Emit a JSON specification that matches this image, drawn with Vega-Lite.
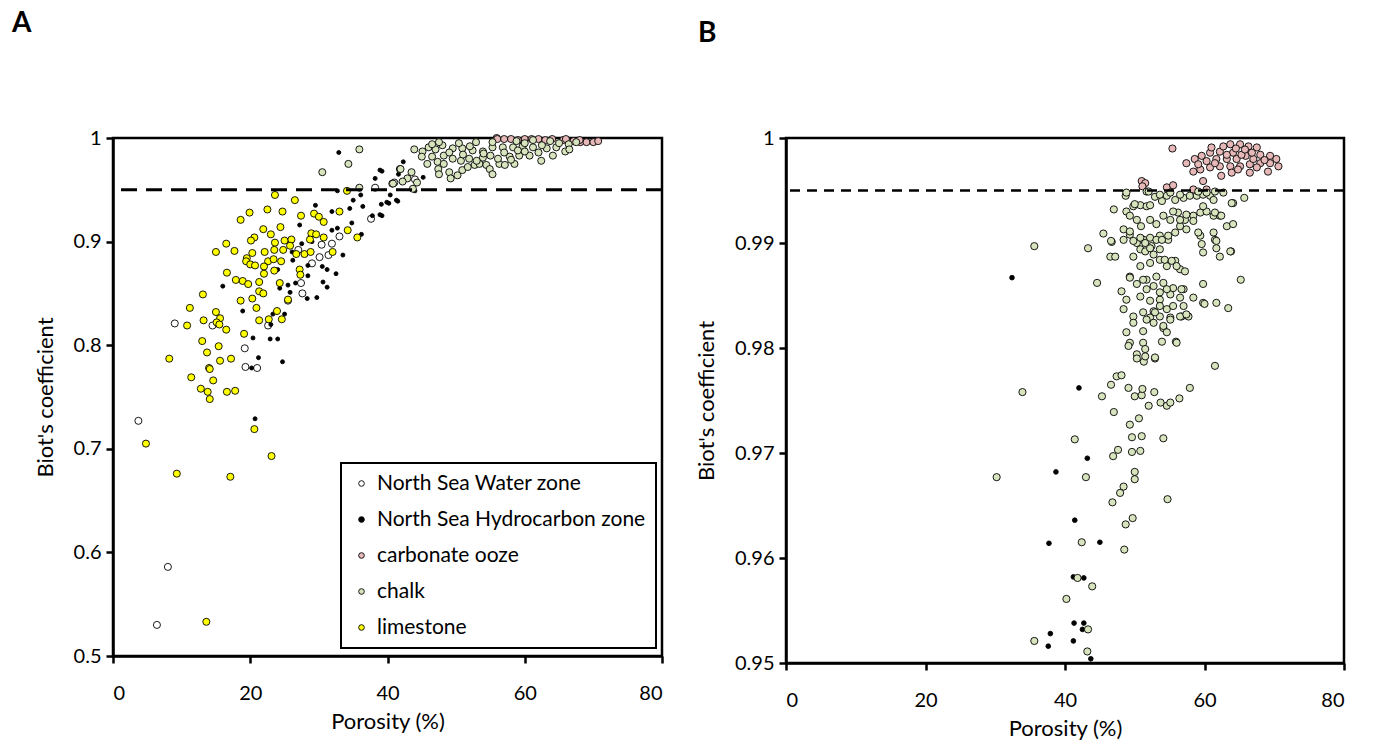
{
"$schema":"https://vega.github.io/schema/vega-lite/v6.json",
"padding":{"left":10,"top":8,"right":5,"bottom":5},
"spacing":29,
"config":{"font":"Lato","view":{"stroke":"black","strokeWidth":2.5},
"legend":{"strokeWidth":2},
"axis":{"grid":false,"domainColor":"black","domainWidth":2.5,"tickColor":"black","tickWidth":2.5,"tickSize":7,"labelFont":"Lato","labelFontSize":20,"labelColor":"black","titleFont":"Lato","titleFontSize":22,"titleFontWeight":"normal","titleColor":"black"},
"axisX":{"labelPadding":20,"titlePadding":8},
"axisY":{"labelPadding":5,"titlePadding":16},
"point":{"filled":true,"stroke":"black","strokeWidth":0.9,"opacity":1}},
"datasets":{
"a":[
{"por":3.7,"biot":0.727,"type":"North Sea Water zone"},{"por":8.0,"biot":0.586,"type":"North Sea Water zone"},{"por":6.4,"biot":0.530,"type":"North Sea Water zone"},{"por":19.3,"biot":0.779,"type":"North Sea Water zone"},{"por":21.0,"biot":0.778,"type":"North Sea Water zone"},{"por":9.0,"biot":0.821,"type":"North Sea Water zone"},{"por":14.5,"biot":0.819,"type":"North Sea Water zone"},{"por":19.2,"biot":0.797,"type":"North Sea Water zone"},{"por":22.6,"biot":0.819,"type":"North Sea Water zone"},{"por":25.5,"biot":0.843,"type":"North Sea Water zone"},{"por":27.4,"biot":0.860,"type":"North Sea Water zone"},{"por":27.6,"biot":0.850,"type":"North Sea Water zone"},{"por":30.1,"biot":0.885,"type":"North Sea Water zone"},{"por":30.4,"biot":0.897,"type":"North Sea Water zone"},{"por":31.9,"biot":0.898,"type":"North Sea Water zone"},{"por":31.4,"biot":0.887,"type":"North Sea Water zone"},{"por":27.0,"biot":0.892,"type":"North Sea Water zone"},{"por":37.6,"biot":0.922,"type":"North Sea Water zone"},{"por":38.2,"biot":0.952,"type":"North Sea Water zone"},{"por":29.0,"biot":0.879,"type":"North Sea Water zone"},{"por":33.0,"biot":0.905,"type":"North Sea Water zone"},{"por":44.0,"biot":0.960,"type":"North Sea Water zone"},{"por":41.0,"biot":0.957,"type":"North Sea Water zone"},
{"por":20.2,"biot":0.778,"type":"North Sea Hydrocarbon zone"},{"por":21.2,"biot":0.788,"type":"North Sea Hydrocarbon zone"},{"por":24.7,"biot":0.784,"type":"North Sea Hydrocarbon zone"},{"por":20.7,"biot":0.729,"type":"North Sea Hydrocarbon zone"},{"por":32.9,"biot":0.986,"type":"North Sea Hydrocarbon zone"},{"por":29.5,"biot":0.935,"type":"North Sea Hydrocarbon zone"},{"por":27.2,"biot":0.916,"type":"North Sea Hydrocarbon zone"},{"por":31.9,"biot":0.911,"type":"North Sea Hydrocarbon zone"},{"por":32.7,"biot":0.913,"type":"North Sea Hydrocarbon zone"},{"por":34.5,"biot":0.932,"type":"North Sea Hydrocarbon zone"},{"por":36.1,"biot":0.945,"type":"North Sea Hydrocarbon zone"},{"por":38.2,"biot":0.961,"type":"North Sea Hydrocarbon zone"},{"por":39.2,"biot":0.968,"type":"North Sea Hydrocarbon zone"},{"por":32.7,"biot":0.949,"type":"North Sea Hydrocarbon zone"},{"por":36.4,"biot":0.934,"type":"North Sea Hydrocarbon zone"},{"por":37.8,"biot":0.925,"type":"North Sea Hydrocarbon zone"},{"por":39.2,"biot":0.925,"type":"North Sea Hydrocarbon zone"},{"por":39.1,"biot":0.936,"type":"North Sea Hydrocarbon zone"},{"por":40.2,"biot":0.937,"type":"North Sea Hydrocarbon zone"},{"por":41.5,"biot":0.939,"type":"North Sea Hydrocarbon zone"},{"por":36.2,"biot":0.907,"type":"North Sea Hydrocarbon zone"},{"por":33.5,"biot":0.887,"type":"North Sea Hydrocarbon zone"},{"por":32.5,"biot":0.869,"type":"North Sea Hydrocarbon zone"},{"por":31.2,"biot":0.856,"type":"North Sea Hydrocarbon zone"},{"por":30.6,"biot":0.861,"type":"North Sea Hydrocarbon zone"},{"por":29.7,"biot":0.846,"type":"North Sea Hydrocarbon zone"},{"por":28.3,"biot":0.845,"type":"North Sea Hydrocarbon zone"},{"por":28.4,"biot":0.867,"type":"North Sea Hydrocarbon zone"},{"por":28.4,"biot":0.877,"type":"North Sea Hydrocarbon zone"},{"por":30.5,"biot":0.876,"type":"North Sea Hydrocarbon zone"},{"por":31.2,"biot":0.873,"type":"North Sea Hydrocarbon zone"},{"por":26.6,"biot":0.860,"type":"North Sea Hydrocarbon zone"},{"por":25.5,"biot":0.858,"type":"North Sea Hydrocarbon zone"},{"por":25.8,"biot":0.851,"type":"North Sea Hydrocarbon zone"},{"por":27.5,"biot":0.898,"type":"North Sea Hydrocarbon zone"},{"por":26.1,"biot":0.890,"type":"North Sea Hydrocarbon zone"},{"por":26.2,"biot":0.882,"type":"North Sea Hydrocarbon zone"},{"por":24.0,"biot":0.873,"type":"North Sea Hydrocarbon zone"},{"por":24.3,"biot":0.855,"type":"North Sea Hydrocarbon zone"},{"por":16.0,"biot":0.857,"type":"North Sea Hydrocarbon zone"},{"por":18.9,"biot":0.833,"type":"North Sea Hydrocarbon zone"},{"por":20.4,"biot":0.807,"type":"North Sea Hydrocarbon zone"},{"por":22.9,"biot":0.806,"type":"North Sea Hydrocarbon zone"},{"por":24.0,"biot":0.806,"type":"North Sea Hydrocarbon zone"},{"por":23.3,"biot":0.830,"type":"North Sea Hydrocarbon zone"},{"por":25.0,"biot":0.830,"type":"North Sea Hydrocarbon zone"},{"por":23.0,"biot":0.820,"type":"North Sea Hydrocarbon zone"},{"por":31.9,"biot":0.929,"type":"North Sea Hydrocarbon zone"},{"por":38.9,"biot":0.969,"type":"North Sea Hydrocarbon zone"},{"por":42.3,"biot":0.977,"type":"North Sea Hydrocarbon zone"},{"por":41.6,"biot":0.965,"type":"North Sea Hydrocarbon zone"},{"por":39.9,"biot":0.938,"type":"North Sea Hydrocarbon zone"},{"por":41.3,"biot":0.940,"type":"North Sea Hydrocarbon zone"},{"por":38.9,"biot":0.926,"type":"North Sea Hydrocarbon zone"},{"por":45.2,"biot":0.962,"type":"North Sea Hydrocarbon zone"},{"por":44.0,"biot":0.949,"type":"North Sea Hydrocarbon zone"},{"por":40.4,"biot":0.945,"type":"North Sea Hydrocarbon zone"},{"por":34.8,"biot":0.918,"type":"North Sea Hydrocarbon zone"},{"por":29.0,"biot":0.900,"type":"North Sea Hydrocarbon zone"},{"por":35.0,"biot":0.940,"type":"North Sea Hydrocarbon zone"},
{"por":55.9,"biot":1.000,"type":"carbonate ooze"},{"por":65.6,"biot":0.998,"type":"carbonate ooze"},{"por":67.1,"biot":0.997,"type":"carbonate ooze"},{"por":68.1,"biot":0.996,"type":"carbonate ooze"},{"por":69.0,"biot":0.996,"type":"carbonate ooze"},{"por":70.0,"biot":0.996,"type":"carbonate ooze"},{"por":70.7,"biot":0.997,"type":"carbonate ooze"},{"por":56,"biot":0.999,"type":"carbonate ooze"},{"por":58,"biot":0.999,"type":"carbonate ooze"},{"por":60,"biot":0.999,"type":"carbonate ooze"},{"por":62,"biot":0.999,"type":"carbonate ooze"},{"por":64,"biot":0.999,"type":"carbonate ooze"},{"por":66,"biot":0.999,"type":"carbonate ooze"},{"por":68,"biot":0.998,"type":"carbonate ooze"},{"por":63,"biot":0.998,"type":"carbonate ooze"},{"por":61,"biot":0.999,"type":"carbonate ooze"},{"por":59,"biot":0.998,"type":"carbonate ooze"},{"por":57,"biot":0.999,"type":"carbonate ooze"},
{"por":35.9,"biot":0.989,"type":"chalk"},{"por":34.3,"biot":0.975,"type":"chalk"},{"por":30.5,"biot":0.967,"type":"chalk"},{"por":35.9,"biot":0.952,"type":"chalk"},{"por":41.8,"biot":0.970,"type":"chalk"},{"por":40.7,"biot":0.956,"type":"chalk"},{"por":43.9,"biot":0.989,"type":"chalk"},{"por":45.1,"biot":0.987,"type":"chalk"},{"por":46.0,"biot":0.991,"type":"chalk"},{"por":47.0,"biot":0.989,"type":"chalk"},{"por":45.8,"biot":0.975,"type":"chalk"},{"por":47.3,"biot":0.977,"type":"chalk"},{"por":47.4,"biot":0.970,"type":"chalk"},{"por":47.5,"biot":0.965,"type":"chalk"},{"por":48.2,"biot":0.975,"type":"chalk"},{"por":49.0,"biot":0.967,"type":"chalk"},{"por":49.2,"biot":0.961,"type":"chalk"},{"por":50.2,"biot":0.964,"type":"chalk"},{"por":50.9,"biot":0.969,"type":"chalk"},{"por":51.7,"biot":0.972,"type":"chalk"},{"por":52.7,"biot":0.974,"type":"chalk"},{"por":53.4,"biot":0.975,"type":"chalk"},{"por":54.4,"biot":0.974,"type":"chalk"},{"por":54.9,"biot":0.970,"type":"chalk"},{"por":55.3,"biot":0.965,"type":"chalk"},{"por":56.3,"biot":0.975,"type":"chalk"},{"por":57.1,"biot":0.974,"type":"chalk"},{"por":58.5,"biot":0.975,"type":"chalk"},{"por":62.4,"biot":0.978,"type":"chalk"},{"por":64.1,"biot":0.983,"type":"chalk"},{"por":65.9,"biot":0.987,"type":"chalk"},{"por":66.4,"biot":0.994,"type":"chalk"},{"por":60.7,"biot":0.983,"type":"chalk"},{"por":59.2,"biot":0.983,"type":"chalk"},{"por":57.8,"biot":0.982,"type":"chalk"},{"por":56.1,"biot":0.980,"type":"chalk"},{"por":53.9,"biot":0.981,"type":"chalk"},{"por":51.9,"biot":0.980,"type":"chalk"},{"por":50.7,"biot":0.978,"type":"chalk"},{"por":49.5,"biot":0.980,"type":"chalk"},{"por":48.2,"biot":0.983,"type":"chalk"},{"por":49.5,"biot":0.990,"type":"chalk"},{"por":50.9,"biot":0.990,"type":"chalk"},{"por":52.4,"biot":0.988,"type":"chalk"},{"por":53.9,"biot":0.987,"type":"chalk"},{"por":55.3,"biot":0.991,"type":"chalk"},{"por":56.8,"biot":0.991,"type":"chalk"},{"por":58.3,"biot":0.991,"type":"chalk"},{"por":59.7,"biot":0.992,"type":"chalk"},{"por":61.2,"biot":0.991,"type":"chalk"},{"por":63.2,"biot":0.990,"type":"chalk"},{"por":64.6,"biot":0.991,"type":"chalk"},{"por":50.4,"biot":0.995,"type":"chalk"},{"por":52.9,"biot":0.996,"type":"chalk"},{"por":55.3,"biot":0.996,"type":"chalk"},{"por":58.8,"biot":0.997,"type":"chalk"},{"por":61.2,"biot":0.998,"type":"chalk"},{"por":63.7,"biot":0.997,"type":"chalk"},{"por":41.9,"biot":0.970,"type":"chalk"},{"por":43.5,"biot":0.967,"type":"chalk"},{"por":42.9,"biot":0.961,"type":"chalk"},{"por":42.2,"biot":0.958,"type":"chalk"},{"por":40.8,"biot":0.956,"type":"chalk"},{"por":44.3,"biot":0.957,"type":"chalk"},{"por":43.7,"biot":0.951,"type":"chalk"},{"por":48,"biot":0.993,"type":"chalk"},{"por":52,"biot":0.992,"type":"chalk"},{"por":54,"biot":0.985,"type":"chalk"},{"por":46.5,"biot":0.982,"type":"chalk"},{"por":57,"biot":0.986,"type":"chalk"},{"por":59,"biot":0.988,"type":"chalk"},{"por":62,"biot":0.986,"type":"chalk"},{"por":60,"biot":0.995,"type":"chalk"},{"por":47.5,"biot":0.996,"type":"chalk"},{"por":65,"biot":0.995,"type":"chalk"},{"por":45,"biot":0.982,"type":"chalk"},{"por":46.5,"biot":0.994,"type":"chalk"},{"por":49,"biot":0.986,"type":"chalk"},{"por":51,"biot":0.984,"type":"chalk"},{"por":53,"biot":0.978,"type":"chalk"},{"por":55,"biot":0.983,"type":"chalk"},{"por":58,"biot":0.979,"type":"chalk"},{"por":60,"biot":0.987,"type":"chalk"},{"por":62.5,"biot":0.993,"type":"chalk"},{"por":66.5,"biot":0.989,"type":"chalk"},{"por":67.5,"biot":0.996,"type":"chalk"},
{"por":23.6,"biot":0.945,"type":"limestone"},{"por":26.5,"biot":0.940,"type":"limestone"},{"por":19.9,"biot":0.928,"type":"limestone"},{"por":18.6,"biot":0.921,"type":"limestone"},{"por":22.5,"biot":0.931,"type":"limestone"},{"por":24.7,"biot":0.929,"type":"limestone"},{"por":27.4,"biot":0.925,"type":"limestone"},{"por":29.3,"biot":0.927,"type":"limestone"},{"por":30.0,"biot":0.924,"type":"limestone"},{"por":30.7,"biot":0.919,"type":"limestone"},{"por":33.0,"biot":0.929,"type":"limestone"},{"por":34.1,"biot":0.949,"type":"limestone"},{"por":34.2,"biot":0.911,"type":"limestone"},{"por":35.6,"biot":0.904,"type":"limestone"},{"por":21.9,"biot":0.912,"type":"limestone"},{"por":23.0,"biot":0.907,"type":"limestone"},{"por":24.4,"biot":0.914,"type":"limestone"},{"por":20.6,"biot":0.904,"type":"limestone"},{"por":20.1,"biot":0.901,"type":"limestone"},{"por":16.5,"biot":0.898,"type":"limestone"},{"por":15.0,"biot":0.890,"type":"limestone"},{"por":17.7,"biot":0.891,"type":"limestone"},{"por":23.6,"biot":0.899,"type":"limestone"},{"por":25.0,"biot":0.901,"type":"limestone"},{"por":26.0,"biot":0.902,"type":"limestone"},{"por":28.9,"biot":0.908,"type":"limestone"},{"por":29.6,"biot":0.907,"type":"limestone"},{"por":30.7,"biot":0.904,"type":"limestone"},{"por":28.7,"biot":0.902,"type":"limestone"},{"por":23.5,"biot":0.892,"type":"limestone"},{"por":24.8,"biot":0.892,"type":"limestone"},{"por":25.8,"biot":0.896,"type":"limestone"},{"por":22.1,"biot":0.890,"type":"limestone"},{"por":19.5,"biot":0.884,"type":"limestone"},{"por":20.3,"biot":0.889,"type":"limestone"},{"por":26.7,"biot":0.888,"type":"limestone"},{"por":27.9,"biot":0.888,"type":"limestone"},{"por":28.8,"biot":0.890,"type":"limestone"},{"por":32.0,"biot":0.890,"type":"limestone"},{"por":22.6,"biot":0.881,"type":"limestone"},{"por":23.4,"biot":0.883,"type":"limestone"},{"por":24.5,"biot":0.881,"type":"limestone"},{"por":19.4,"biot":0.881,"type":"limestone"},{"por":20.0,"biot":0.878,"type":"limestone"},{"por":20.7,"biot":0.877,"type":"limestone"},{"por":22.0,"biot":0.876,"type":"limestone"},{"por":22.0,"biot":0.869,"type":"limestone"},{"por":23.5,"biot":0.872,"type":"limestone"},{"por":27.2,"biot":0.873,"type":"limestone"},{"por":27.3,"biot":0.868,"type":"limestone"},{"por":16.6,"biot":0.870,"type":"limestone"},{"por":17.9,"biot":0.863,"type":"limestone"},{"por":18.9,"biot":0.862,"type":"limestone"},{"por":19.7,"biot":0.859,"type":"limestone"},{"por":21.3,"biot":0.861,"type":"limestone"},{"por":24.3,"biot":0.860,"type":"limestone"},{"por":21.3,"biot":0.852,"type":"limestone"},{"por":21.9,"biot":0.850,"type":"limestone"},{"por":20.3,"biot":0.845,"type":"limestone"},{"por":18.6,"biot":0.843,"type":"limestone"},{"por":25.5,"biot":0.844,"type":"limestone"},{"por":13.1,"biot":0.849,"type":"limestone"},{"por":11.2,"biot":0.836,"type":"limestone"},{"por":20.9,"biot":0.836,"type":"limestone"},{"por":23.9,"biot":0.833,"type":"limestone"},{"por":13.2,"biot":0.824,"type":"limestone"},{"por":15.0,"biot":0.832,"type":"limestone"},{"por":15.6,"biot":0.826,"type":"limestone"},{"por":15.1,"biot":0.822,"type":"limestone"},{"por":15.5,"biot":0.820,"type":"limestone"},{"por":16.5,"biot":0.815,"type":"limestone"},{"por":10.8,"biot":0.819,"type":"limestone"},{"por":21.3,"biot":0.824,"type":"limestone"},{"por":22.7,"biot":0.825,"type":"limestone"},{"por":24.6,"biot":0.825,"type":"limestone"},{"por":19.1,"biot":0.811,"type":"limestone"},{"por":13.0,"biot":0.804,"type":"limestone"},{"por":15.4,"biot":0.799,"type":"limestone"},{"por":13.7,"biot":0.793,"type":"limestone"},{"por":8.2,"biot":0.787,"type":"limestone"},{"por":15.6,"biot":0.785,"type":"limestone"},{"por":17.2,"biot":0.787,"type":"limestone"},{"por":14.0,"biot":0.778,"type":"limestone"},{"por":14.1,"biot":0.777,"type":"limestone"},{"por":11.4,"biot":0.769,"type":"limestone"},{"por":14.6,"biot":0.766,"type":"limestone"},{"por":12.8,"biot":0.758,"type":"limestone"},{"por":13.8,"biot":0.755,"type":"limestone"},{"por":14.1,"biot":0.748,"type":"limestone"},{"por":16.6,"biot":0.755,"type":"limestone"},{"por":17.8,"biot":0.756,"type":"limestone"},{"por":4.8,"biot":0.705,"type":"limestone"},{"por":9.3,"biot":0.676,"type":"limestone"},{"por":17.1,"biot":0.673,"type":"limestone"},{"por":20.6,"biot":0.719,"type":"limestone"},{"por":23.1,"biot":0.693,"type":"limestone"},{"por":13.6,"biot":0.533,"type":"limestone"}
],
"b":[
{"por":32.4,"biot":0.9867,"type":"North Sea Hydrocarbon zone"},{"por":42.0,"biot":0.9762,"type":"North Sea Hydrocarbon zone"},{"por":43.2,"biot":0.9695,"type":"North Sea Hydrocarbon zone"},{"por":38.7,"biot":0.9682,"type":"North Sea Hydrocarbon zone"},{"por":41.4,"biot":0.9636,"type":"North Sea Hydrocarbon zone"},{"por":37.7,"biot":0.9614,"type":"North Sea Hydrocarbon zone"},{"por":45.0,"biot":0.9615,"type":"North Sea Hydrocarbon zone"},{"por":41.2,"biot":0.9582,"type":"North Sea Hydrocarbon zone"},{"por":42.7,"biot":0.9581,"type":"North Sea Hydrocarbon zone"},{"por":41.3,"biot":0.9538,"type":"North Sea Hydrocarbon zone"},{"por":42.7,"biot":0.9538,"type":"North Sea Hydrocarbon zone"},{"por":42.5,"biot":0.9532,"type":"North Sea Hydrocarbon zone"},{"por":37.9,"biot":0.9528,"type":"North Sea Hydrocarbon zone"},{"por":37.6,"biot":0.9516,"type":"North Sea Hydrocarbon zone"},{"por":41.2,"biot":0.9521,"type":"North Sea Hydrocarbon zone"},{"por":43.7,"biot":0.9504,"type":"North Sea Hydrocarbon zone"},
{"por":55.4,"biot":0.999,"type":"carbonate ooze"},{"por":51.0,"biot":0.9959,"type":"carbonate ooze"},{"por":51.5,"biot":0.9957,"type":"carbonate ooze"},{"por":51.1,"biot":0.9954,"type":"carbonate ooze"},{"por":54.6,"biot":0.9953,"type":"carbonate ooze"},{"por":55.5,"biot":0.9955,"type":"carbonate ooze"},{"por":58.4,"biot":0.9951,"type":"carbonate ooze"},{"por":59.8,"biot":0.9959,"type":"carbonate ooze"},{"por":60.3,"biot":0.9951,"type":"carbonate ooze"},{"por":57.4,"biot":0.9976,"type":"carbonate ooze"},{"por":58.6,"biot":0.998,"type":"carbonate ooze"},{"por":59.6,"biot":0.9983,"type":"carbonate ooze"},{"por":60.8,"biot":0.9986,"type":"carbonate ooze"},{"por":62.2,"biot":0.9987,"type":"carbonate ooze"},{"por":63.7,"biot":0.9994,"type":"carbonate ooze"},{"por":65.1,"biot":0.9994,"type":"carbonate ooze"},{"por":66.3,"biot":0.9992,"type":"carbonate ooze"},{"por":67.5,"biot":0.9991,"type":"carbonate ooze"},{"por":64.1,"biot":0.9986,"type":"carbonate ooze"},{"por":65.9,"biot":0.9983,"type":"carbonate ooze"},{"por":68.0,"biot":0.9984,"type":"carbonate ooze"},{"por":69.4,"biot":0.9983,"type":"carbonate ooze"},{"por":70.3,"biot":0.998,"type":"carbonate ooze"},{"por":70.6,"biot":0.9973,"type":"carbonate ooze"},{"por":69.4,"biot":0.9976,"type":"carbonate ooze"},{"por":68.0,"biot":0.9976,"type":"carbonate ooze"},{"por":66.5,"biot":0.9975,"type":"carbonate ooze"},{"por":65.1,"biot":0.9973,"type":"carbonate ooze"},{"por":63.7,"biot":0.9973,"type":"carbonate ooze"},{"por":62.2,"biot":0.9973,"type":"carbonate ooze"},{"por":60.8,"biot":0.9972,"type":"carbonate ooze"},{"por":59.4,"biot":0.997,"type":"carbonate ooze"},{"por":58.4,"biot":0.9968,"type":"carbonate ooze"},{"por":60.3,"biot":0.9978,"type":"carbonate ooze"},{"por":61.7,"biot":0.998,"type":"carbonate ooze"},{"por":63.2,"biot":0.998,"type":"carbonate ooze"},{"por":64.6,"biot":0.998,"type":"carbonate ooze"},{"por":67.0,"biot":0.998,"type":"carbonate ooze"},{"por":62.4,"biot":0.9964,"type":"carbonate ooze"},{"por":63.9,"biot":0.9967,"type":"carbonate ooze"},{"por":66.5,"biot":0.9967,"type":"carbonate ooze"},{"por":69.1,"biot":0.9968,"type":"carbonate ooze"},{"por":62.7,"biot":0.9992,"type":"carbonate ooze"},{"por":61.0,"biot":0.9991,"type":"carbonate ooze"},{"por":67.5,"biot":0.9972,"type":"carbonate ooze"},{"por":65.3,"biot":0.9984,"type":"carbonate ooze"},{"por":59.1,"biot":0.9975,"type":"carbonate ooze"},{"por":63.2,"biot":0.9984,"type":"carbonate ooze"},{"por":65.8,"biot":0.9989,"type":"carbonate ooze"},{"por":64.5,"biot":0.9990,"type":"carbonate ooze"},{"por":66.8,"biot":0.9986,"type":"carbonate ooze"},{"por":61.5,"biot":0.9976,"type":"carbonate ooze"},{"por":64.8,"biot":0.9970,"type":"carbonate ooze"},{"por":68.6,"biot":0.9979,"type":"carbonate ooze"},
{"por":35.6,"biot":0.9897,"type":"chalk"},{"por":43.3,"biot":0.9895,"type":"chalk"},{"por":44.6,"biot":0.9862,"type":"chalk"},{"por":45.5,"biot":0.9909,"type":"chalk"},{"por":47.0,"biot":0.9932,"type":"chalk"},{"por":46.5,"biot":0.9887,"type":"chalk"},{"por":46.7,"biot":0.9901,"type":"chalk"},{"por":48.7,"biot":0.9945,"type":"chalk"},{"por":48.8,"biot":0.993,"type":"chalk"},{"por":49.8,"biot":0.9935,"type":"chalk"},{"por":50.8,"biot":0.9936,"type":"chalk"},{"por":51.7,"biot":0.9935,"type":"chalk"},{"por":51.7,"biot":0.9949,"type":"chalk"},{"por":52.9,"biot":0.9944,"type":"chalk"},{"por":53.9,"biot":0.994,"type":"chalk"},{"por":54.6,"biot":0.9945,"type":"chalk"},{"por":55.8,"biot":0.9941,"type":"chalk"},{"por":57.0,"biot":0.9943,"type":"chalk"},{"por":57.9,"biot":0.9945,"type":"chalk"},{"por":58.9,"biot":0.9945,"type":"chalk"},{"por":59.8,"biot":0.9946,"type":"chalk"},{"por":60.8,"biot":0.9945,"type":"chalk"},{"por":61.5,"biot":0.9949,"type":"chalk"},{"por":64.1,"biot":0.9938,"type":"chalk"},{"por":65.7,"biot":0.9943,"type":"chalk"},{"por":63.2,"biot":0.9916,"type":"chalk"},{"por":63.8,"biot":0.9892,"type":"chalk"},{"por":65.2,"biot":0.9865,"type":"chalk"},{"por":61.7,"biot":0.9843,"type":"chalk"},{"por":63.4,"biot":0.9838,"type":"chalk"},{"por":59.8,"biot":0.9843,"type":"chalk"},{"por":58.4,"biot":0.9848,"type":"chalk"},{"por":59.8,"biot":0.9861,"type":"chalk"},{"por":50.3,"biot":0.9922,"type":"chalk"},{"por":50.9,"biot":0.9916,"type":"chalk"},{"por":52.2,"biot":0.9922,"type":"chalk"},{"por":53.1,"biot":0.9918,"type":"chalk"},{"por":54.1,"biot":0.9926,"type":"chalk"},{"por":55.1,"biot":0.9922,"type":"chalk"},{"por":56.2,"biot":0.9929,"type":"chalk"},{"por":57.2,"biot":0.9922,"type":"chalk"},{"por":58.4,"biot":0.9926,"type":"chalk"},{"por":59.4,"biot":0.9929,"type":"chalk"},{"por":60.3,"biot":0.993,"type":"chalk"},{"por":61.3,"biot":0.9926,"type":"chalk"},{"por":62.2,"biot":0.9926,"type":"chalk"},{"por":49.3,"biot":0.9908,"type":"chalk"},{"por":50.3,"biot":0.99,"type":"chalk"},{"por":51.3,"biot":0.9903,"type":"chalk"},{"por":52.4,"biot":0.9897,"type":"chalk"},{"por":53.6,"biot":0.9907,"type":"chalk"},{"por":54.8,"biot":0.9903,"type":"chalk"},{"por":55.8,"biot":0.991,"type":"chalk"},{"por":56.5,"biot":0.9916,"type":"chalk"},{"por":57.4,"biot":0.9913,"type":"chalk"},{"por":59.4,"biot":0.9907,"type":"chalk"},{"por":59.6,"biot":0.9899,"type":"chalk"},{"por":59.8,"biot":0.9891,"type":"chalk"},{"por":61.5,"biot":0.9903,"type":"chalk"},{"por":61.7,"biot":0.9895,"type":"chalk"},{"por":62.2,"biot":0.9887,"type":"chalk"},{"por":49.8,"biot":0.9887,"type":"chalk"},{"por":50.8,"biot":0.9878,"type":"chalk"},{"por":52.2,"biot":0.9881,"type":"chalk"},{"por":53.6,"biot":0.9884,"type":"chalk"},{"por":54.6,"biot":0.9878,"type":"chalk"},{"por":55.8,"biot":0.9883,"type":"chalk"},{"por":56.5,"biot":0.9875,"type":"chalk"},{"por":57.2,"biot":0.9873,"type":"chalk"},{"por":49.3,"biot":0.9868,"type":"chalk"},{"por":50.3,"biot":0.9861,"type":"chalk"},{"por":51.7,"biot":0.9865,"type":"chalk"},{"por":53.1,"biot":0.9868,"type":"chalk"},{"por":54.1,"biot":0.9862,"type":"chalk"},{"por":55.5,"biot":0.9857,"type":"chalk"},{"por":57.0,"biot":0.9856,"type":"chalk"},{"por":48.1,"biot":0.9854,"type":"chalk"},{"por":48.8,"biot":0.9846,"type":"chalk"},{"por":50.8,"biot":0.9849,"type":"chalk"},{"por":52.2,"biot":0.9845,"type":"chalk"},{"por":53.6,"biot":0.9846,"type":"chalk"},{"por":55.1,"biot":0.9851,"type":"chalk"},{"por":56.5,"biot":0.9848,"type":"chalk"},{"por":48.4,"biot":0.9837,"type":"chalk"},{"por":49.8,"biot":0.983,"type":"chalk"},{"por":51.2,"biot":0.9834,"type":"chalk"},{"por":52.7,"biot":0.9835,"type":"chalk"},{"por":53.6,"biot":0.983,"type":"chalk"},{"por":55.1,"biot":0.9829,"type":"chalk"},{"por":56.7,"biot":0.983,"type":"chalk"},{"por":49.8,"biot":0.9824,"type":"chalk"},{"por":52.2,"biot":0.9829,"type":"chalk"},{"por":52.9,"biot":0.9834,"type":"chalk"},{"por":53.6,"biot":0.984,"type":"chalk"},{"por":54.6,"biot":0.9837,"type":"chalk"},{"por":55.5,"biot":0.984,"type":"chalk"},{"por":57.0,"biot":0.984,"type":"chalk"},{"por":55.1,"biot":0.9827,"type":"chalk"},{"por":57.7,"biot":0.983,"type":"chalk"},{"por":60.0,"biot":0.9842,"type":"chalk"},{"por":48.8,"biot":0.9815,"type":"chalk"},{"por":49.3,"biot":0.9805,"type":"chalk"},{"por":49.1,"biot":0.9802,"type":"chalk"},{"por":51.2,"biot":0.9816,"type":"chalk"},{"por":51.2,"biot":0.9805,"type":"chalk"},{"por":51.5,"biot":0.9799,"type":"chalk"},{"por":50.3,"biot":0.9794,"type":"chalk"},{"por":50.3,"biot":0.979,"type":"chalk"},{"por":51.3,"biot":0.9787,"type":"chalk"},{"por":52.9,"biot":0.979,"type":"chalk"},{"por":53.9,"biot":0.9806,"type":"chalk"},{"por":54.1,"biot":0.9819,"type":"chalk"},{"por":54.6,"biot":0.9815,"type":"chalk"},{"por":55.9,"biot":0.9806,"type":"chalk"},{"por":61.5,"biot":0.9783,"type":"chalk"},{"por":47.4,"biot":0.9773,"type":"chalk"},{"por":48.1,"biot":0.9774,"type":"chalk"},{"por":46.6,"biot":0.9765,"type":"chalk"},{"por":49.1,"biot":0.9762,"type":"chalk"},{"por":50.0,"biot":0.9754,"type":"chalk"},{"por":51.0,"biot":0.9755,"type":"chalk"},{"por":51.1,"biot":0.9761,"type":"chalk"},{"por":52.8,"biot":0.9758,"type":"chalk"},{"por":53.7,"biot":0.9748,"type":"chalk"},{"por":54.6,"biot":0.9745,"type":"chalk"},{"por":55.1,"biot":0.9748,"type":"chalk"},{"por":56.4,"biot":0.9752,"type":"chalk"},{"por":57.9,"biot":0.9762,"type":"chalk"},{"por":52.0,"biot":0.9745,"type":"chalk"},{"por":45.3,"biot":0.9754,"type":"chalk"},{"por":47.0,"biot":0.9739,"type":"chalk"},{"por":49.3,"biot":0.9727,"type":"chalk"},{"por":50.6,"biot":0.9733,"type":"chalk"},{"por":49.6,"biot":0.9715,"type":"chalk"},{"por":51.0,"biot":0.9716,"type":"chalk"},{"por":54.1,"biot":0.9714,"type":"chalk"},{"por":47.6,"biot":0.9703,"type":"chalk"},{"por":46.9,"biot":0.9697,"type":"chalk"},{"por":49.6,"biot":0.9701,"type":"chalk"},{"por":50.8,"biot":0.9702,"type":"chalk"},{"por":50.0,"biot":0.9682,"type":"chalk"},{"por":50.0,"biot":0.9675,"type":"chalk"},{"por":48.4,"biot":0.9668,"type":"chalk"},{"por":47.9,"biot":0.9662,"type":"chalk"},{"por":41.4,"biot":0.9713,"type":"chalk"},{"por":43.0,"biot":0.9677,"type":"chalk"},{"por":33.9,"biot":0.9758,"type":"chalk"},{"por":30.2,"biot":0.9677,"type":"chalk"},{"por":46.8,"biot":0.9653,"type":"chalk"},{"por":54.7,"biot":0.9656,"type":"chalk"},{"por":48.7,"biot":0.9632,"type":"chalk"},{"por":49.7,"biot":0.9638,"type":"chalk"},{"por":42.4,"biot":0.9615,"type":"chalk"},{"por":48.5,"biot":0.9608,"type":"chalk"},{"por":41.8,"biot":0.9581,"type":"chalk"},{"por":43.9,"biot":0.9573,"type":"chalk"},{"por":40.2,"biot":0.9561,"type":"chalk"},{"por":43.3,"biot":0.9532,"type":"chalk"},{"por":35.6,"biot":0.9521,"type":"chalk"},{"por":43.2,"biot":0.9511,"type":"chalk"},{"por":46.6,"biot":0.9902,"type":"chalk"},{"por":47.2,"biot":0.9887,"type":"chalk"},{"por":48.8,"biot":0.9948,"type":"chalk"},{"por":49.3,"biot":0.9926,"type":"chalk"},{"por":50.0,"biot":0.9937,"type":"chalk"},{"por":52.2,"biot":0.9936,"type":"chalk"},{"por":48.4,"biot":0.9913,"type":"chalk"},{"por":49.3,"biot":0.9911,"type":"chalk"},{"por":48.4,"biot":0.9903,"type":"chalk"},{"por":49.8,"biot":0.9902,"type":"chalk"},{"por":50.8,"biot":0.9905,"type":"chalk"},{"por":51.5,"biot":0.99,"type":"chalk"},{"por":52.2,"biot":0.9905,"type":"chalk"},{"por":53.1,"biot":0.9903,"type":"chalk"},{"por":53.9,"biot":0.9903,"type":"chalk"},{"por":54.8,"biot":0.9907,"type":"chalk"},{"por":50.8,"biot":0.9894,"type":"chalk"},{"por":51.5,"biot":0.9892,"type":"chalk"},{"por":52.2,"biot":0.9895,"type":"chalk"},{"por":52.7,"biot":0.9889,"type":"chalk"},{"por":53.6,"biot":0.9894,"type":"chalk"},{"por":54.3,"biot":0.9884,"type":"chalk"},{"por":55.3,"biot":0.9883,"type":"chalk"},{"por":56.0,"biot":0.9878,"type":"chalk"},{"por":49.3,"biot":0.9867,"type":"chalk"},{"por":51.2,"biot":0.9865,"type":"chalk"},{"por":51.7,"biot":0.9856,"type":"chalk"},{"por":52.7,"biot":0.9859,"type":"chalk"},{"por":53.6,"biot":0.9853,"type":"chalk"},{"por":54.6,"biot":0.9856,"type":"chalk"},{"por":56.7,"biot":0.9856,"type":"chalk"},{"por":51.7,"biot":0.9827,"type":"chalk"},{"por":52.7,"biot":0.9824,"type":"chalk"},{"por":54.1,"biot":0.9821,"type":"chalk"},{"por":56.5,"biot":0.983,"type":"chalk"},{"por":57.4,"biot":0.9832,"type":"chalk"},{"por":56.0,"biot":0.9805,"type":"chalk"},{"por":51.5,"biot":0.9792,"type":"chalk"},{"por":52.9,"biot":0.9791,"type":"chalk"},{"por":59.1,"biot":0.991,"type":"chalk"},{"por":61.3,"biot":0.991,"type":"chalk"},{"por":61.7,"biot":0.9902,"type":"chalk"},{"por":63.7,"biot":0.9892,"type":"chalk"},{"por":64.1,"biot":0.9918,"type":"chalk"},{"por":63.9,"biot":0.9938,"type":"chalk"},{"por":62.7,"biot":0.9948,"type":"chalk"},{"por":61.3,"biot":0.9941,"type":"chalk"},{"por":61.5,"biot":0.9929,"type":"chalk"},{"por":62.4,"biot":0.9926,"type":"chalk"},{"por":52.0,"biot":0.9949,"type":"chalk"},{"por":53.6,"biot":0.9946,"type":"chalk"},{"por":55.1,"biot":0.9948,"type":"chalk"},{"por":56.5,"biot":0.9946,"type":"chalk"},{"por":59.1,"biot":0.9949,"type":"chalk"},{"por":60.3,"biot":0.9948,"type":"chalk"},{"por":55.5,"biot":0.993,"type":"chalk"},{"por":56.5,"biot":0.9922,"type":"chalk"},{"por":57.4,"biot":0.9927,"type":"chalk"},{"por":58.4,"biot":0.9921,"type":"chalk"},{"por":59.8,"biot":0.9935,"type":"chalk"}
]},
"resolve":{"scale":{"x":"independent","y":"independent","fill":"independent"},"legend":{"fill":"independent"}},
"hconcat":[
{"width":549,"height":518,
"title":{"text":"A","anchor":"start","frame":"group","dx":-101,"offset":90,"fontSize":28,"fontWeight":"bold","font":"Lato","color":"black"},
"layer":[
{"data":{"name":"a"},"transform":[{"filter":{"field":"type","equal":"North Sea Water zone"}}],
"mark":{"type":"point","size":50},
"encoding":{
"x":{"field":"por","type":"quantitative","scale":{"domain":[0,80]},"axis":{"values":[0,20,40,60,80],"title":"Porosity (%)"}},
"y":{"field":"biot","type":"quantitative","scale":{"domain":[0.5,1]},"axis":{"values":[0.5,0.6,0.7,0.8,0.9,1],"format":"~g","title":"Biot's coefficient"}},
"fill":{"field":"type","type":"nominal","scale":{"domain":["North Sea Water zone","North Sea Hydrocarbon zone","carbonate ooze","chalk","limestone"],"range":["#FFFFFF","#000000","#E6B9B8","#D7E4BD","#FFFF00"]},
"legend":{"title":null,"orient":"none","legendX":228,"legendY":325,"strokeColor":"black","padding":10,"fillColor":"white","labelFontSize":21,"labelFont":"Lato","labelColor":"black","labelLimit":500,"symbolType":"circle","symbolSize":32,"symbolStrokeColor":"black","symbolStrokeWidth":0.8,"rowPadding":14,"labelOffset":5,
"encode":{"legend":{"update":{"strokeWidth":{"value":2}}},"symbols":{"update":{"size":{"signal":"datum.value === 'North Sea Hydrocarbon zone' ? 12 : 32"}}}}}}}},
{"data":{"name":"a"},"transform":[{"filter":{"field":"type","equal":"North Sea Hydrocarbon zone"}}],
"mark":{"type":"point","size":16},
"encoding":{
"x":{"field":"por","type":"quantitative"},
"y":{"field":"biot","type":"quantitative"},
"fill":{"field":"type","type":"nominal"}}},
{"data":{"name":"a"},"transform":[{"filter":{"field":"type","oneOf":["carbonate ooze","chalk","limestone"]}}],
"mark":{"type":"point","size":50},
"encoding":{
"x":{"field":"por","type":"quantitative"},
"y":{"field":"biot","type":"quantitative"},
"fill":{"field":"type","type":"nominal"}}},
{"data":{"values":[{}]},
"mark":{"type":"rule","strokeDash":[16,9],"strokeWidth":3,"color":"black"},
"encoding":{"y":{"datum":0.95,"type":"quantitative"}}}
]},
{"width":558,"height":525,
"title":{"text":"B","anchor":"start","frame":"group","dx":-88,"offset":80,"fontSize":28,"fontWeight":"bold","font":"Lato","color":"black"},
"layer":[
{"data":{"name":"b"},"transform":[{"filter":{"field":"type","equal":"North Sea Hydrocarbon zone"}}],
"mark":{"type":"point","size":22},
"encoding":{
"x":{"field":"por","type":"quantitative","scale":{"domain":[0,80]},"axis":{"values":[0,20,40,60,80],"title":"Porosity (%)"}},
"y":{"field":"biot","type":"quantitative","scale":{"domain":[0.95,1]},"axis":{"values":[0.95,0.96,0.97,0.98,0.99,1],"format":"~g","title":"Biot's coefficient"}},
"fill":{"field":"type","type":"nominal","scale":{"domain":["North Sea Water zone","North Sea Hydrocarbon zone","carbonate ooze","chalk","limestone"],"range":["#FFFFFF","#000000","#E6B9B8","#D7E4BD","#FFFF00"]},"legend":null}}},
{"data":{"name":"b"},"transform":[{"filter":{"field":"type","oneOf":["carbonate ooze","chalk"]}}],
"mark":{"type":"point","size":52},
"encoding":{
"x":{"field":"por","type":"quantitative"},
"y":{"field":"biot","type":"quantitative"},
"fill":{"field":"type","type":"nominal","legend":null}}},
{"data":{"values":[{}]},
"mark":{"type":"rule","strokeDash":[10,7],"strokeWidth":2.5,"color":"black"},
"encoding":{"y":{"datum":0.995,"type":"quantitative"}}}
]}
]
}
